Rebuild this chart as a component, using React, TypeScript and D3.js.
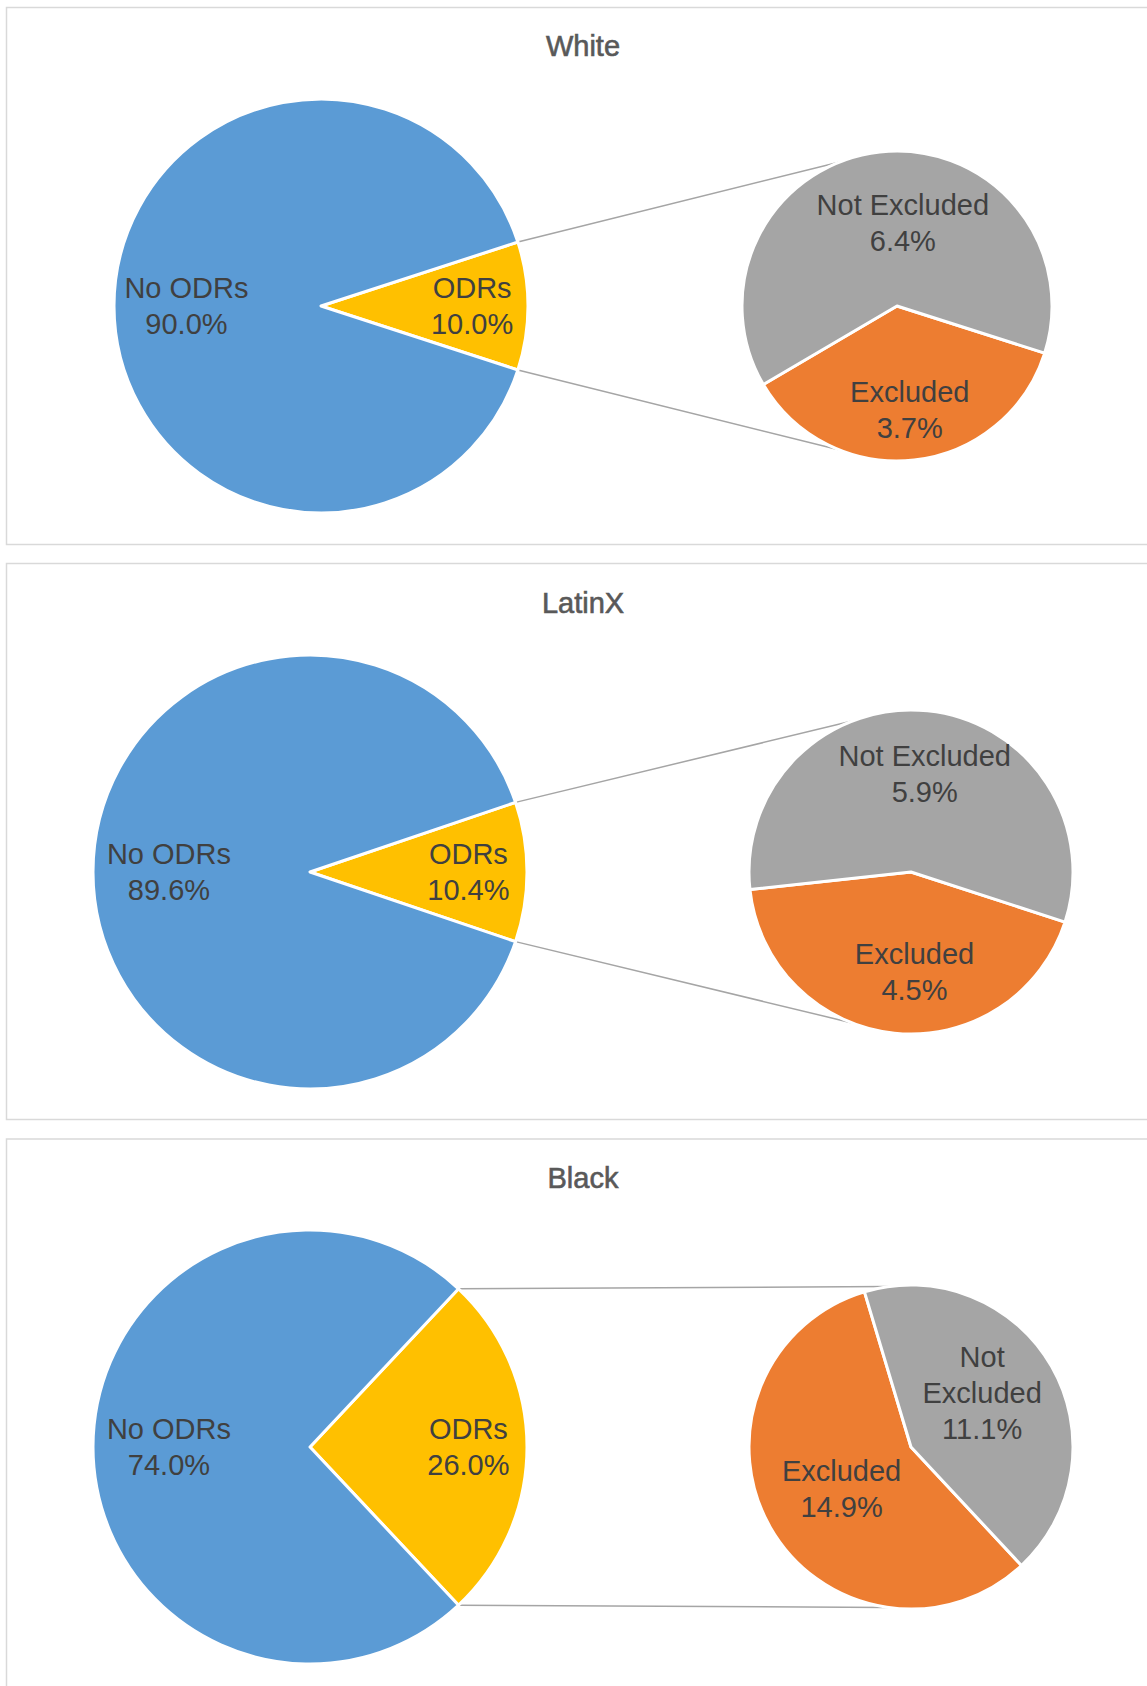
import * as d3 from 'd3'

// values (percent of students)
const groups: string[] = ['White', 'LatinX', 'Black']
const noOdrs: number[] = [90.0, 89.6, 74.0]
const odrs: number[] = [10.0, 10.4, 26.0]
const excluded: number[] = [3.7, 4.5, 14.9]
const notExcluded: number[] = [6.4, 5.9, 11.1]

// layout for each panel (pixels, degrees)
const panelTop = [7.5, 563.5, 1139]
const panelHeight = [537, 556, 600]
const titleY = [46, 603, 1178]
const mainCenter = [[321, 306], [310, 872], [310, 1447]]
const mainRadius = [207, 217, 217]
const subCenter = [[897, 306], [911, 872], [911, 1447]]
const subRadius = [155, 162, 162]
const subStart = [17.7, 18, 47] // where the Excluded slice begins, clockwise from 3 o'clock
const wrapLabel = [false, false, true]
// label spot in the small pie: [angle from 3 o'clock, share of radius] for Excluded, Not Excluded
const subLabelPos = [
  [[83, 0.675], [-86, 0.54]],
  [[88, 0.62], [-82, 0.61]],
  [[149, 0.5], [-37, 0.55]],
]

const colors = { noOdrs: '#5B9BD5', odrs: '#FFC000', excluded: '#ED7D31', notExcluded: '#A5A5A5' }
const font = '"Liberation Sans", Arial, sans-serif'
const rad = Math.PI / 180

type Slice = { name: string; value: number; color: string }

function Label({ x, y, lines }: { x: number; y: number; lines: string[] }) {
  const gap = 36
  const y0 = y - ((lines.length - 1) * gap) / 2
  return (
    <text x={x} textAnchor="middle" fontFamily={font} fontSize={29} fill="#404040">
      {lines.map((l, i) => (
        <tspan key={i} x={x} y={y0 + i * gap} dominantBaseline="central">{l}</tspan>
      ))}
    </text>
  )
}

function Panel({ i }: { i: number }) {
  const [mx, my] = mainCenter[i]
  const mr = mainRadius[i]
  const [sx, sy] = subCenter[i]
  const sr = subRadius[i]

  const mainData: Slice[] = [
    { name: 'ODRs', value: odrs[i], color: colors.odrs },
    { name: 'No ODRs', value: noOdrs[i], color: colors.noOdrs },
  ]
  const subData: Slice[] = [
    { name: 'Excluded', value: excluded[i], color: colors.excluded },
    { name: 'Not Excluded', value: notExcluded[i], color: colors.notExcluded },
  ]

  // ODRs slice centred on 3 o'clock
  const odrAngle = (odrs[i] / (odrs[i] + noOdrs[i])) * 2 * Math.PI
  const mainPie = d3.pie<Slice>().sort(null).value(d => d.value)
    .startAngle(Math.PI / 2 - odrAngle / 2).endAngle(Math.PI / 2 - odrAngle / 2 + 2 * Math.PI)
  const s0 = (subStart[i] + 90) * rad
  const subPie = d3.pie<Slice>().sort(null).value(d => d.value).startAngle(s0).endAngle(s0 + 2 * Math.PI)

  const mainArc = d3.arc<d3.PieArcDatum<Slice>>().innerRadius(0).outerRadius(mr)
  const subArc = d3.arc<d3.PieArcDatum<Slice>>().innerRadius(0).outerRadius(sr)

  const mainArcs = mainPie(mainData)
  const subArcs = subPie(subData)

  // connector lines: from the ODRs slice edges to the secondary pie
  const conn = [-1, 1].map(sign => {
    const a = sign * odrAngle / 2 // screen angle from +x
    const px = mx + mr * Math.cos(a)
    const py = my + mr * Math.sin(a)
    const dx = px - sx, dy = py - sy
    const d = Math.hypot(dx, dy)
    const dir = Math.atan2(dy, dx)
    const t = dir - sign * (Math.acos(sr / d) - 7.5 * rad)
    return { x1: px, y1: py, x2: sx + sr * Math.cos(t), y2: sy + sr * Math.sin(t) }
  })

  const polar = (cx: number, cy: number, r: number, a: number) =>
    [cx + r * Math.sin(a), cy - r * Math.cos(a)]

  return (
    <g>
      <rect x={6.5} y={panelTop[i]} width={1200} height={panelHeight[i]} fill="white" stroke="#D9D9D9" strokeWidth={1.5} />
      <text x={583} y={titleY[i]} textAnchor="middle" dominantBaseline="central" fontFamily={font} fontSize={29}
        fill="#595959" stroke="#595959" strokeWidth={0.6}>
        {groups[i]}
      </text>
      {conn.map((c, k) => (
        <line key={k} {...c} stroke="#A5A5A5" strokeWidth={1.5} />
      ))}
      <g transform={`translate(${mx},${my})`}>
        {mainArcs.map((a, k) => (
          <path key={k} d={mainArc(a) || ''} fill={a.data.color} stroke="white" strokeWidth={3} strokeLinejoin="round" />
        ))}
      </g>
      <g transform={`translate(${sx},${sy})`}>
        {subArcs.map((a, k) => (
          <path key={k} d={subArc(a) || ''} fill={a.data.color} stroke="white" strokeWidth={3} strokeLinejoin="round" />
        ))}
      </g>
      {mainArcs.map((a, k) => {
        const mid = (a.startAngle + a.endAngle) / 2
        const f = a.data.name === 'ODRs' ? 0.73 : 0.65
        const [x, y] = polar(mx, my, mr * f, mid)
        return <Label key={k} x={x} y={y} lines={[a.data.name, a.data.value.toFixed(1) + '%']} />
      })}
      {subArcs.map((a, k) => {
        const [deg, f] = subLabelPos[i][k]
        const x = sx + sr * f * Math.cos(deg * rad)
        const y = sy + sr * f * Math.sin(deg * rad)
        const name = wrapLabel[i] ? a.data.name.split(' ') : [a.data.name]
        return <Label key={k} x={x} y={y} lines={[...name, a.data.value.toFixed(1) + '%']} />
      })}
    </g>
  )
}

export default function App() {
  return (
    <svg width={1147} height={1686} style={{ position: 'absolute', left: 0, top: 0, background: 'white' }}>
      {groups.map((g, i) => <Panel key={g} i={i} />)}
    </svg>
  )
}
